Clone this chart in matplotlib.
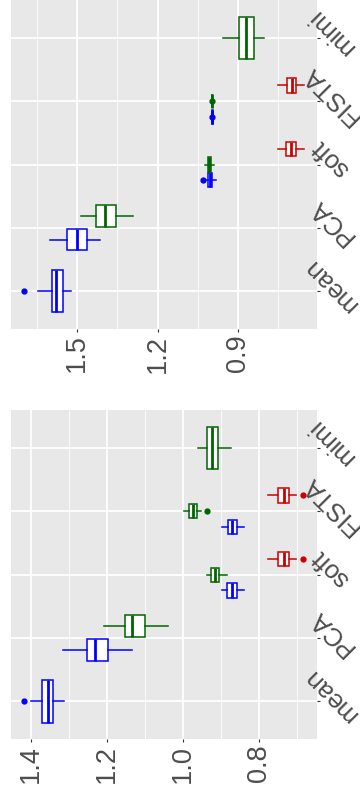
import matplotlib
matplotlib.use('Agg')
import matplotlib.pyplot as plt
import matplotlib.transforms as mtransforms

plt.rcParams['font.family'] = ['Liberation Sans', 'DejaVu Sans']

categories = ['mean', 'PCA', 'soft', 'FISTA', 'mimi']
series_names = ['blue', 'green', 'red']
series_colors = ['#0000FF', '#006400', '#CD0000']

# each box: (whislo, q1, med, q3, whishi), None where the method has no box
top_blue = [(1.525, 1.554, 1.579, 1.595, 1.647),
            (1.414, 1.464, 1.499, 1.539, 1.601),
            (0.983, 0.995, 1.003, 1.011, 1.015),
            (0.991, 0.993, 0.995, 0.997, 0.999),
            None]
top_blue_fliers = [[1.698], [], [1.030], [0.996], []]
top_green = [None,
             (1.293, 1.355, 1.398, 1.430, 1.485),
             (0.989, 0.999, 1.006, 1.012, 1.023),
             (0.993, 0.995, 0.996, 0.997, 0.999),
             (0.801, 0.841, 0.870, 0.894, 0.957)]
top_green_fliers = [[], [], [], [0.997], []]
top_red = [None, None,
           (0.651, 0.684, 0.700, 0.718, 0.748),
           (0.651, 0.684, 0.699, 0.717, 0.748),
           None]
top_red_fliers = [[], [], [], [], []]

bot_blue = [(1.312, 1.343, 1.356, 1.370, 1.400),
            (1.133, 1.198, 1.232, 1.252, 1.315),
            (0.839, 0.859, 0.872, 0.885, 0.898),
            (0.839, 0.859, 0.870, 0.882, 0.898),
            None]
bot_blue_fliers = [[1.418], [], [], [], []]
bot_green = [None,
             (1.039, 1.099, 1.133, 1.152, 1.208),
             (0.885, 0.905, 0.916, 0.926, 0.938),
             (0.953, 0.962, 0.975, 0.983, 0.997),
             (0.875, 0.907, 0.923, 0.936, 0.960)]
bot_green_fliers = [[], [], [], [0.936], []]
bot_red = [None, None,
           (0.703, 0.720, 0.734, 0.749, 0.776),
           (0.703, 0.720, 0.734, 0.749, 0.776),
           None]
bot_red_fliers = [[], [], [0.683], [0.683], []]

top_major = [1.5, 1.2, 0.9]
top_minor = [1.65, 1.35, 1.05, 0.75]
top_lim = (1.7475, 0.604)
bot_major = [1.4, 1.2, 1.0, 0.8]
bot_minor = [1.3, 1.1, 0.9, 0.7]
bot_lim = (1.4526, 0.6474)

W, H = 360, 797
fig = plt.figure(figsize=(W / 100, H / 100), dpi=100)


def draw_panel(ax, boxes, fliers, xlim, major, minor):
    ax.set_facecolor('#E8E8E8')
    for s in ax.spines.values():
        s.set_visible(False)
    ax.set_xlim(*xlim)
    ax.set_ylim(0.4, len(categories) + 0.6)
    ax.set_xticks(major)
    ax.set_xticklabels(['%.1f' % v for v in major], rotation=90,
                       fontsize=19.5, color='#4D4D4D')
    ax.set_xticks(minor, minor=True)
    ax.tick_params(axis='x', which='minor', length=0)
    ax.tick_params(axis='x', which='major', length=2.5, width=0.8,
                   color='#333333', pad=1.5)
    ax.set_yticks(range(1, len(categories) + 1))
    ax.set_yticklabels([])
    ax.yaxis.tick_right()
    ax.tick_params(axis='y', length=2.5, width=0.8, color='#333333')
    ax.grid(which='major', color='white', lw=1.3)
    ax.grid(which='minor', axis='x', color='white', lw=0.6)
    ax.set_axisbelow(True)

    for ci in range(len(categories)):
        present = [si for si in range(len(boxes)) if boxes[si][ci] is not None]
        n = len(present)
        for k, si in enumerate(present):
            lo, q1, med, q3, hi = boxes[si][ci]
            st = [dict(whislo=lo, q1=q1, med=med, q3=q3, whishi=hi,
                       fliers=fliers[si][ci])]
            pos = ci + 1 + (k - (n - 1) / 2) * 0.75 / n
            c = series_colors[si]
            ax.bxp(st, positions=[pos], widths=[0.75 / n * 0.9],
                   orientation='horizontal', patch_artist=True,
                   showcaps=False, manage_ticks=False,
                   boxprops=dict(facecolor='white', edgecolor=c, lw=1.1),
                   medianprops=dict(color=c, lw=2.0),
                   whiskerprops=dict(color=c, lw=1.1),
                   flierprops=dict(marker='o', markerfacecolor=c,
                                   markeredgecolor=c, markersize=3.5))

    off = mtransforms.offset_copy(ax.get_yaxis_transform(), fig=fig,
                                  x=14, y=6, units='dots')
    for ci, name in enumerate(categories):
        ax.text(1, ci + 1, name, transform=off, rotation=135,
                ha='center', va='center', fontsize=18.5, color='#4D4D4D',
                clip_on=False)


ax1 = fig.add_axes([11 / W, (H - 329) / H, 306 / W, 329 / H])
draw_panel(ax1, [top_blue, top_green, top_red],
           [top_blue_fliers, top_green_fliers, top_red_fliers],
           top_lim, top_major, top_minor)

ax2 = fig.add_axes([11 / W, (H - 739.3) / H, 306 / W, 329.3 / H])
draw_panel(ax2, [bot_blue, bot_green, bot_red],
           [bot_blue_fliers, bot_green_fliers, bot_red_fliers],
           bot_lim, bot_major, bot_minor)

fig.savefig('out.png', dpi=100)
